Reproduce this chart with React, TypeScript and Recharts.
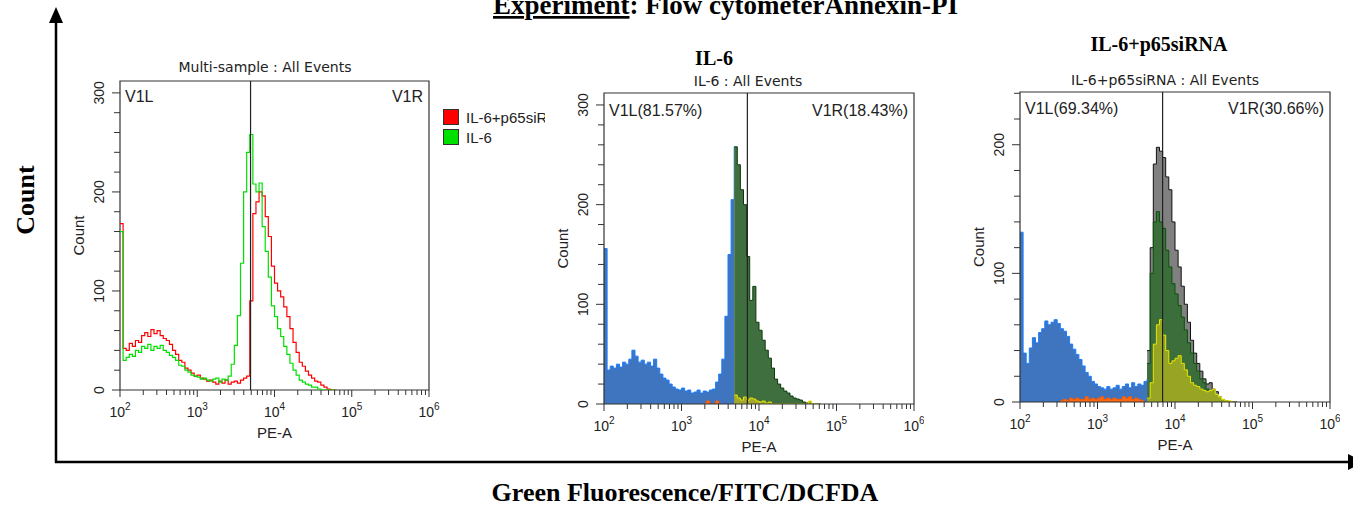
import React from 'react';
import { ComposedChart, Line, Area, XAxis, YAxis, ReferenceArea, ReferenceLine, Legend, Label } from 'recharts';

// histogram bin starts, log10(PE-A)
const BINS = [
  2.00, 2.04, 2.08, 2.12, 2.16, 2.20, 2.24, 2.28, 2.32, 2.36,
  2.40, 2.44, 2.48, 2.52, 2.56, 2.60, 2.64, 2.68, 2.72, 2.76,
  2.80, 2.84, 2.88, 2.92, 2.96, 3.00, 3.04, 3.08, 3.12, 3.16,
  3.20, 3.24, 3.28, 3.32, 3.36, 3.40, 3.44, 3.48, 3.52, 3.56,
  3.60, 3.64, 3.68, 3.72, 3.76, 3.80, 3.84, 3.88, 3.92, 3.96,
  4.00, 4.04, 4.08, 4.12, 4.16, 4.20, 4.24, 4.28, 4.32, 4.36,
  4.40, 4.44, 4.48, 4.52, 4.56, 4.60, 4.64, 4.68, 4.72, 4.76, 4.80,
];

// Multi-sample overlay, counts from 10^2
const MULTI_P65 = [
  168, 42, 40, 47, 44, 50, 48, 55, 58, 54,
  61, 57, 60, 55, 52, 50, 46, 40, 36, 30,
  28, 22, 20, 17, 14, 15, 12, 11, 9, 10,
  8, 6, 9, 7, 10, 6, 8, 9, 7, 10,
  12, 14, 90, 178, 190, 200, 196, 175, 155, 125,
  108, 100, 94, 84, 74, 62, 48, 38, 28, 24,
  19, 15, 12, 9, 8, 5, 3, 1, 0, 0, 0,
];
const MULTI_IL6 = [
  160, 30, 33, 36, 34, 40, 38, 44, 42, 46,
  40, 44, 42, 45, 40, 38, 35, 33, 30, 25,
  24, 20, 18, 15, 14, 13, 11, 12, 10, 9,
  11, 12, 8, 11, 10, 14, 26, 45, 75, 128,
  200, 240, 258, 208, 200, 209, 165, 140, 114, 85,
  74, 62, 54, 44, 36, 27, 20, 15, 10, 8,
  6, 5, 3, 3, 1, 0, 0, 0, 0, 0, 0,
];

// IL-6 alone
const IL6_BLUE = [ // from 2.00
  156, 34, 38, 36, 40, 37, 42, 40, 45, 54,
  48, 42, 44, 40, 42, 38, 45, 36, 30, 26,
  24, 20, 17, 15, 14, 16, 13, 14, 11, 12,
  14, 11, 13, 12, 14, 15, 22, 30, 45, 88,
  150, 205, 258,
];
const IL6_GREEN = [ // from 3.68
  258, 240, 215, 200, 148, 104, 118, 82,
  74, 64, 54, 46, 36, 25, 20, 16, 13, 11,
  8, 6, 5, 4, 2, 1, 0, 0, 0, 0, 0,
];
const IL6_YELLOW = [ // from 3.68
  9, 6, 4, 7, 4, 6, 5, 3,
  2, 3, 1, 2, 0, 0, 0, 0, 0, 0,
  0, 0, 0, 0, 0, 0, 3, 0, 0, 0, 0,
];
const IL6_ORANGE = [0, 3, 0, 0, 3, 0]; // from 3.28

// IL-6 + p65 siRNA
const SI_BLUE = [ // from 2.00
  132, 38, 30, 42, 50, 46, 54, 57, 63, 60,
  62, 64, 61, 57, 55, 51, 45, 41, 37, 33,
  28, 23, 20, 16, 14, 12, 11, 10, 12, 10,
  11, 13, 10, 12, 14, 11, 15, 12, 14, 13,
  16, 18,
];
const SI_GRAY = [ // from 3.64
  40, 120, 185, 198, 195, 190, 175, 165, 140,
  118, 105, 90, 76, 62, 48, 38, 30, 24, 18,
  14, 15, 10, 8, 4, 2, 1, 0, 0, 0, 0,
];
const SI_GREEN = [ // from 3.64
  30, 100, 140, 148, 140, 135, 118, 105, 92,
  84, 75, 66, 56, 46, 38, 30, 24, 18, 15,
  10, 9, 7, 4, 3, 1, 0, 0, 0, 0, 0,
];
const SI_YELLOW = [ // from 3.64
  3, 15, 45, 60, 64, 52, 40, 30, 32,
  34, 36, 30, 25, 20, 15, 13, 12, 10, 9,
  8, 9, 10, 6, 4, 2, 1, 1, 0, 0, 0,
];
const SI_ORANGE = [ // from 2.52
  1, 2, 1, 3, 2, 3, 2, 2, 4, 2, 3, 2, 3, 4,
  2, 3, 2, 3, 2, 2, 4, 3, 4, 2, 3, 2, 1, 1,
];

const GATE_MULTI = 3.69;
const GATE_IL6 = 3.85;
const GATE_SI = 3.84;

const COUNT_TICKS_300 = [0, 20, 40, 60, 80, 100, 120, 140, 160, 180, 200, 220, 240, 260, 280, 300];
const COUNT_TICKS_240 = [0, 20, 40, 60, 80, 100, 120, 140, 160, 180, 200, 220, 240];
const DECADES = [2, 3, 4, 5, 6];
const MINOR_FACTORS = [2, 3, 4, 5, 6, 7, 8, 9];
const X_TICKS = [
  ...DECADES,
  ...DECADES.slice(0, 4).flatMap(d => MINOR_FACTORS.map(f => d + Math.log10(f))),
];

const SANS = '"Liberation Sans", Arial, sans-serif';
const WIDE = '"DejaVu Sans", Verdana, sans-serif';
const SERIF = '"Liberation Serif", "Times New Roman", serif';
const INK = '#222';

type Series = [string, number, number[]];

function buildRows(series: Series[]) {
  return BINS.map((x, i) => {
    const row: Record<string, number | null> = { x };
    series.forEach(([key, from, values]) => {
      const j = i - BINS.indexOf(from);
      row[key] = j >= 0 && j < values.length ? values[j] : null;
    });
    return row;
  });
}

const multiRows = buildRows([['p65', 2.0, MULTI_P65], ['il6', 2.0, MULTI_IL6]]);
const il6Rows = buildRows([
  ['blue', 2.0, IL6_BLUE], ['green', 3.68, IL6_GREEN],
  ['yellow', 3.68, IL6_YELLOW], ['orange', 3.28, IL6_ORANGE],
]);
const siRows = buildRows([
  ['blue', 2.0, SI_BLUE], ['gray', 3.64, SI_GRAY], ['green', 3.64, SI_GREEN],
  ['yellow', 3.64, SI_YELLOW], ['orange', 2.52, SI_ORANGE],
]);

const XTick = (props: any) => {
  const { x, y, payload } = props;
  const v = payload.value;
  const major = Math.abs(v - Math.round(v)) < 1e-6;
  return (
    <g>
      <line x1={x} x2={x} y1={y} y2={y + (major ? 7 : 5)} stroke="#333" />
      {major && (
        <text x={x} y={y + 27} textAnchor="middle" fontSize={14} fill={INK}>
          10<tspan dy={-7} fontSize={10}>{v}</tspan>
        </text>
      )}
    </g>
  );
};

const YTick = (props: any) => {
  const { x, y, payload } = props;
  const major = payload.value % 100 === 0;
  return (
    <g>
      <line x1={x - (major ? 8 : 6)} x2={x} y1={y} y2={y} stroke="#333" />
      {major && (
        <text transform={`translate(${x - 21},${y}) rotate(-90)`} textAnchor="middle"
          dominantBaseline="central" fontSize={14} fill={INK}>{payload.value}</text>
      )}
    </g>
  );
};

const gateLabel = (text: string, side: 'left' | 'right', dy: number) => (props: any) => {
  const vb = props.viewBox;
  const x = side === 'left' ? vb.x + 5 : vb.x + vb.width - 6;
  return (
    <text x={x} y={vb.y + dy} textAnchor={side === 'left' ? 'start' : 'end'} fontSize={16} fill={INK}>
      {text}
    </text>
  );
};

const LEGEND_ORDER = ['p65', 'il6'];

const MultiLegend = (props: any) => {
  const items = [...(props.payload || [])].sort(
    (a: any, b: any) => LEGEND_ORDER.indexOf(a.dataKey) - LEGEND_ORDER.indexOf(b.dataKey));
  return (
    <div>
      {items.map((it: any) => (
        <div key={it.dataKey} style={{ display: 'flex', alignItems: 'center', height: 20, whiteSpace: 'nowrap' }}>
          <span style={{ width: 14, height: 14, background: it.color, border: '1px solid #333', flex: 'none' }} />
          <span style={{ marginLeft: 7, fontSize: 15, color: INK }}>{it.value}</span>
        </div>
      ))}
    </div>
  );
};

function Panel(props: {
  left: number; top: number; w: number; h: number; right?: number;
  yMax: number; yTicks: number[]; rows: any[]; gate: number;
  leftText: string; rightText: string; labelDy: number; children: React.ReactNode;
}) {
  const rm = props.right ?? 10;
  return (
    <div style={{ position: 'absolute', left: props.left - 60, top: props.top - 10, fontFamily: SANS }}>
      <ComposedChart width={props.w + 60 + rm} height={props.h + 60} data={props.rows}
        margin={{ top: 10, right: rm, bottom: 5, left: 0 }}>
        <XAxis dataKey="x" type="number" domain={[2, 6]} ticks={X_TICKS} interval={0} tick={XTick}
          tickLine={false} axisLine={false} tickSize={0} tickMargin={0} height={45} allowDataOverflow>
          <Label content={(p: any) => (
            <text x={p.viewBox.x + p.viewBox.width / 2} y={p.viewBox.y + 48} textAnchor="middle"
              fontSize={15} fill={INK}>PE-A</text>
          )} />
        </XAxis>
        <YAxis type="number" domain={[0, props.yMax]} ticks={props.yTicks} interval={0} tick={YTick}
          tickLine={false} axisLine={false} tickSize={0} tickMargin={0} width={60} allowDataOverflow>
          <Label content={(p: any) => (
            <text transform={`translate(${p.viewBox.x + p.viewBox.width - 42},${p.viewBox.y + p.viewBox.height / 2}) rotate(-90)`}
              textAnchor="middle" dominantBaseline="central" fontSize={15} fill={INK}>Count</text>
          )} />
        </YAxis>
        {props.children}
        <ReferenceArea x1={2} x2={props.gate} y1={0} y2={props.yMax} fill="none" stroke="none"
          label={gateLabel(props.leftText, 'left', props.labelDy)} />
        <ReferenceArea x1={props.gate} x2={6} y1={0} y2={props.yMax} fill="none" stroke="none"
          label={gateLabel(props.rightText, 'right', props.labelDy)} />
        <ReferenceLine x={props.gate} stroke={INK} strokeWidth={1.2} />
        <ReferenceArea x1={2} x2={6} y1={0} y2={props.yMax} fill="none" stroke="#333" strokeWidth={1.2} />
      </ComposedChart>
    </div>
  );
}

export default function App() {
  return (
    <div style={{ position: 'absolute', left: 0, top: 0, width: 1353, height: 508, overflow: 'hidden', background: '#fff' }}>
      <svg width={1353} height={508} style={{ position: 'absolute', left: 0, top: 0 }}>
        <line x1={56} y1={18} x2={56} y2={463} stroke="#000" strokeWidth={2.5} />
        <polygon points="56,7 49,23 63,23" fill="#000" />
        <line x1={55} y1={462} x2={1350} y2={462} stroke="#000" strokeWidth={2.5} />
        <polygon points="1348,454 1348,470 1364,462" fill="#000" />
        <text x={493} y={14} fontFamily={SERIF} fontWeight="bold" fontSize={27} fill="#000">
          <tspan style={{ textDecoration: 'underline' }}>Experiment</tspan>: Flow cytometerAnnexin-PI
        </text>
        <text transform="translate(25,200) rotate(-90)" textAnchor="middle" dominantBaseline="central"
          fontFamily={SERIF} fontWeight="bold" fontSize={26} fill="#000">Count</text>
        <text x={685} y={501} textAnchor="middle" fontFamily={SERIF} fontWeight="bold" fontSize={26} fill="#000">
          Green Fluorescence/FITC/DCFDA
        </text>
        <text x={714} y={65} textAnchor="middle" fontFamily={SERIF} fontWeight="bold" fontSize={20} fill="#000">IL-6</text>
        <text x={1159} y={51} textAnchor="middle" fontFamily={SERIF} fontWeight="bold" fontSize={20} fill="#000">IL-6+p65siRNA</text>
        <text x={265} y={72} textAnchor="middle" fontFamily={WIDE} fontSize={14} fill={INK}>Multi-sample : All Events</text>
        <text x={748} y={86} textAnchor="middle" fontFamily={WIDE} fontSize={14} fill={INK}>IL-6 : All Events</text>
        <text x={1165} y={85} textAnchor="middle" fontFamily={WIDE} fontSize={14} fill={INK}>IL-6+p65siRNA : All Events</text>
      </svg>

      <Panel left={120} top={81} w={309} h={309} right={119} yMax={312} yTicks={COUNT_TICKS_300}
        rows={multiRows} gate={GATE_MULTI} leftText="V1L" rightText="V1R" labelDy={21}>
        <Line type="stepAfter" dataKey="p65" name="IL-6+p65siRNA" stroke="#ff0000" strokeWidth={1.2}
          dot={false} isAnimationActive={false} />
        <Line type="stepAfter" dataKey="il6" name="IL-6" stroke="#00e000" strokeWidth={1.2}
          dot={false} isAnimationActive={false} />
        <Legend layout="vertical" align="center" verticalAlign="middle" content={MultiLegend}
          wrapperStyle={{ left: 383, top: 36, width: 102, overflow: 'hidden', fontFamily: SANS }} />
      </Panel>

      <Panel left={604} top={93} w={310} h={311} yMax={312} yTicks={COUNT_TICKS_300}
        rows={il6Rows} gate={GATE_IL6} leftText="V1L(81.57%)" rightText="V1R(18.43%)" labelDy={23}>
        <Area type="stepAfter" dataKey="blue" fill="#3f74bf" fillOpacity={1} stroke="#1a7cff" strokeWidth={1}
          isAnimationActive={false} />
        <Area type="stepAfter" dataKey="green" fill="#3f6f3f" fillOpacity={1} stroke="#0d3a0d" strokeWidth={1}
          isAnimationActive={false} />
        <Area type="stepAfter" dataKey="yellow" fill="#a3a82a" fillOpacity={1} stroke="#e4e400" strokeWidth={1}
          isAnimationActive={false} />
        <Area type="stepAfter" dataKey="orange" fill="#ff6a10" fillOpacity={1} stroke="#ff5a00" strokeWidth={1}
          isAnimationActive={false} />
      </Panel>

      <Panel left={1020} top={92} w={310} h={310} yMax={241} yTicks={COUNT_TICKS_240}
        rows={siRows} gate={GATE_SI} leftText="V1L(69.34%)" rightText="V1R(30.66%)" labelDy={22}>
        <Area type="stepAfter" dataKey="gray" fill="#808080" fillOpacity={1} stroke="#111" strokeWidth={1}
          isAnimationActive={false} />
        <Area type="stepAfter" dataKey="green" fill="#3c6e3c" fillOpacity={1} stroke="#0b500b" strokeWidth={1}
          isAnimationActive={false} />
        <Area type="stepAfter" dataKey="yellow" fill="#98a424" fillOpacity={1} stroke="#e6e600" strokeWidth={1}
          isAnimationActive={false} />
        <Area type="stepAfter" dataKey="blue" fill="#3f74bf" fillOpacity={1} stroke="#1a7cff" strokeWidth={1}
          isAnimationActive={false} />
        <Area type="stepAfter" dataKey="orange" fill="#ff6a10" fillOpacity={1} stroke="#ff5a00" strokeWidth={1}
          isAnimationActive={false} />
      </Panel>
    </div>
  );
}
